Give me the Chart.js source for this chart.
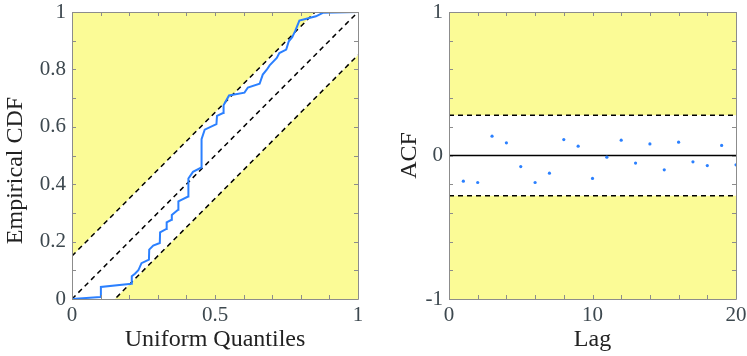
<!DOCTYPE html>
<html>
<head>
<meta charset="utf-8">
<script src="https://cdn.jsdelivr.net/npm/chart.js@4/dist/chart.umd.min.js"></script>
<style>
  html, body { margin: 0; padding: 0; background: #fff; }
  canvas { position: absolute; top: 0; }
  #cdf-chart { left: 0; }
  #acf-chart { left: 377px; }
</style>
</head>
<body>
<canvas id="cdf-chart" width="373" height="356"></canvas>
<canvas id="acf-chart" width="370" height="356"></canvas>
<script>
// --- DATA ---
// empirical CDF against uniform quantiles
const cdfQuantiles = [0, 0.100, 0.101, 0.208, 0.209, 0.220, 0.232, 0.243, 0.269, 0.270,
  0.284, 0.307, 0.308, 0.330, 0.331, 0.348, 0.349, 0.371, 0.372, 0.406,
  0.407, 0.423, 0.452, 0.453, 0.464, 0.505, 0.507, 0.528, 0.530, 0.549,
  0.603, 0.615, 0.656, 0.667, 0.681, 0.691, 0.716, 0.725, 0.749, 0.758,
  0.770, 0.781, 0.795, 0.853, 0.877, 1.0];
const cdfValues = [0, 0.007, 0.042, 0.053, 0.079, 0.088, 0.100, 0.125, 0.137, 0.172,
  0.186, 0.195, 0.232, 0.244, 0.267, 0.276, 0.293, 0.311, 0.340, 0.357,
  0.420, 0.443, 0.458, 0.557, 0.590, 0.609, 0.638, 0.648, 0.675, 0.709,
  0.719, 0.737, 0.750, 0.782, 0.799, 0.814, 0.840, 0.857, 0.869, 0.898,
  0.912, 0.935, 0.970, 0.985, 0.997, 1.0];
const cdfBand = 0.15;            // half width of the band around the diagonal
const cdfXLabels = [0, 0.5, 1];
const cdfYLabels = [0, 0.2, 0.4, 0.6, 0.8, 1];

// autocorrelation by lag
const lags = [1, 2, 3, 4, 5, 6, 7, 8, 9, 10, 11, 12, 13, 14, 15, 16, 17, 18, 19, 20];
const acfValues = [-0.179, -0.188, 0.135, 0.088, -0.077, -0.188, -0.123, 0.111, 0.065, -0.160,
  -0.012, 0.107, -0.053, 0.081, -0.100, 0.093, -0.044, -0.070, 0.070, -0.065];
const acfBound = 0.28;           // confidence bound
const acfXLabels = [0, 10, 20];
const acfYLabels = [-1, 0, 1];

// --- STYLING ---
const YELLOW = '#fbfb96';
const BLUE = '#2b80ff';
const FRAME = '#8c8c8c';
const TICK_COLOR = '#3d484f';
const TITLE_COLOR = '#222';
const SERIF = "'Liberation Serif', 'Times New Roman', serif";

const pts = (xs, ys) => xs.map((x, i) => ({ x: x, y: ys[i] }));
const near = (v, list) => list.some(l => Math.abs(v - l) < 1e-6);
const fmt = v => String(+v.toFixed(1));

// box round the plot area, with short ticks pointing inwards (matlab style)
const frameTicks = {
  id: 'frameTicks',
  afterDatasetsDraw(chart) {
    const { ctx, chartArea: a, scales: { x, y } } = chart;
    const len = 4;
    ctx.save();
    ctx.strokeStyle = FRAME;
    ctx.lineWidth = 1;
    ctx.beginPath();
    x.ticks.forEach(t => {
      const px = Math.round(x.getPixelForValue(t.value)) + 0.5;
      ctx.moveTo(px, a.bottom); ctx.lineTo(px, a.bottom - len);
      ctx.moveTo(px, a.top); ctx.lineTo(px, a.top + len);
    });
    y.ticks.forEach(t => {
      const py = Math.round(y.getPixelForValue(t.value)) + 0.5;
      ctx.moveTo(a.left, py); ctx.lineTo(a.left + len, py);
      ctx.moveTo(a.right, py); ctx.lineTo(a.right - len, py);
    });
    ctx.rect(Math.round(a.left) + 0.5, Math.round(a.top) + 0.5,
      Math.round(a.right - a.left), Math.round(a.bottom - a.top));
    ctx.stroke();
    ctx.restore();
  }
};

function axis(min, max, step, labels, pad, extra) {
  return Object.assign({
    type: 'linear',
    min: min,
    max: max,
    grid: { display: false, drawTicks: false },
    border: { display: false },
    ticks: {
      stepSize: step,
      autoSkip: false,
      maxRotation: 0,
      padding: pad,
      color: TICK_COLOR,
      font: { family: SERIF, size: 21 },
      callback: v => (near(v, labels) ? fmt(v) : '')
    }
  }, extra);
}

function title(text, padding) {
  return {
    display: true,
    text: text,
    color: TITLE_COLOR,
    font: { family: SERIF, size: 24, lineHeight: 1.2 },
    padding: padding
  };
}

// fixed axis box sizes; end labels may overhang into the layout padding
const fixHeight = h => s => { s.height = h; s.paddingLeft = 0; s.paddingRight = 0; };
const fixWidth = w => s => { s.width = w; s.paddingTop = 0; s.paddingBottom = 0; };

const dashed = { borderColor: '#000', borderWidth: 1.5, borderDash: [5, 4], pointRadius: 0 };

// --- LEFT: EMPIRICAL CDF ---
const cdfChart = new Chart(document.getElementById('cdf-chart'), {
  type: 'line',
  data: {
    datasets: [
      {
        data: pts(cdfQuantiles, cdfValues),
        borderColor: BLUE,
        borderWidth: 2,
        pointRadius: 0,
        fill: false
      },
      Object.assign({ data: pts([0, 1], [0, 1]), fill: false }, dashed),
      Object.assign({ data: pts([0, 1], [cdfBand, 1 + cdfBand]), fill: 'end', backgroundColor: YELLOW }, dashed),
      Object.assign({ data: pts([0, 1], [-cdfBand, 1 - cdfBand]), fill: 'start', backgroundColor: YELLOW }, dashed)
    ]
  },
  options: {
    responsive: false,
    animation: false,
    events: [],
    layout: { padding: { left: 0, right: 15, top: 12, bottom: 0 } },
    plugins: { legend: { display: false }, tooltip: { enabled: false } },
    scales: {
      x: axis(0, 1, 0.1, cdfXLabels, 4, {
        afterFit: fixHeight(57),
        title: title('Uniform Quantiles', { top: 0, bottom: 2 })
      }),
      y: axis(0, 1, 0.1, cdfYLabels, 6, {
        afterFit: fixWidth(72),
        title: title('Empirical CDF\u2003\u0020', { top: 1, bottom: 0 })
      })
    }
  },
  plugins: [frameTicks]
});

// --- RIGHT: ACF ---
const acfChart = new Chart(document.getElementById('acf-chart'), {
  type: 'line',
  data: {
    datasets: [
      {
        data: pts(lags, acfValues),
        showLine: false,
        pointRadius: 1.6,
        pointBorderWidth: 0,
        pointBackgroundColor: BLUE
      },
      { data: pts([0, 20], [0, 0]), borderColor: '#000', borderWidth: 1.5, pointRadius: 0, fill: false },
      Object.assign({ data: pts([0, 20], [acfBound, acfBound]), fill: 'end', backgroundColor: YELLOW }, dashed),
      Object.assign({ data: pts([0, 20], [-acfBound, -acfBound]), fill: 'start', backgroundColor: YELLOW }, dashed)
    ]
  },
  options: {
    responsive: false,
    animation: false,
    events: [],
    layout: { padding: { left: 17, right: 11, top: 12, bottom: 0 } },
    plugins: { legend: { display: false }, tooltip: { enabled: false } },
    scales: {
      x: axis(0, 20, 2, acfXLabels, 4, {
        afterFit: fixHeight(57),
        title: title('Lag', { top: 0, bottom: 2 })
      }),
      y: axis(-1, 1, 0.2, acfYLabels, 6, {
        afterFit: fixWidth(55),
        title: title('ACF', { top: 1, bottom: 0 })
      })
    }
  },
  plugins: [frameTicks]
});
</script>
</body>
</html>
